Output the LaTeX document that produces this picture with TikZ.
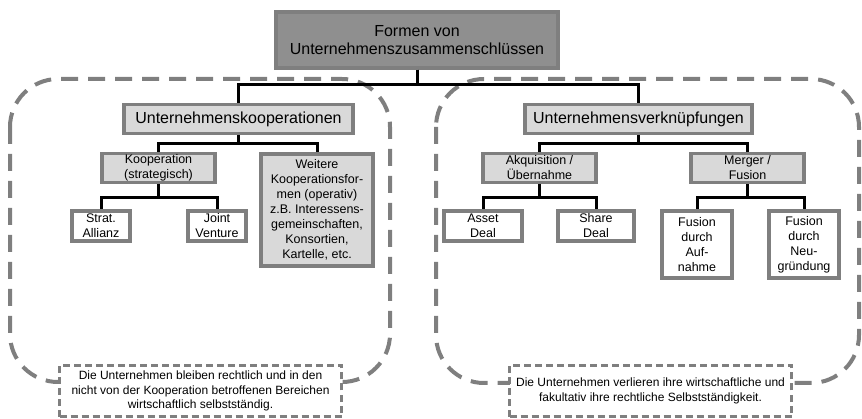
\documentclass[tikz,border=0pt]{standalone}
\usepackage{fontspec}
\setmainfont{Liberation Sans}
\usepackage{tikz}
\usetikzlibrary{calc}

\definecolor{boxline}{HTML}{7F7F7F}
\definecolor{topfill}{HTML}{8F8F8F}
\definecolor{boxfill}{HTML}{D9D9D9}

\tikzset{
  topbox/.style={draw=boxline, line width=3.5pt, fill=topfill, align=center, inner sep=0pt,
    minimum width=282pt, minimum height=56pt, font=\fontsize{16}{18.5}\selectfont},
  mainbox/.style={draw=boxline, line width=3.5pt, fill=boxfill, align=center, inner sep=0pt,
    minimum height=29pt, font=\fontsize{16}{18}\selectfont},
  subbox/.style={draw=boxline, line width=3.5pt, fill=boxfill, align=center, inner sep=0pt,
    minimum width=113pt, minimum height=29pt, font=\fontsize{12.5}{15}\selectfont},
  leafbox/.style={draw=boxline, line width=3.5pt, fill=white, align=center, inner sep=0pt,
    font=\fontsize{12.5}{15}\selectfont},
  notebox/.style={draw=boxline, line width=3pt, dash pattern=on 7pt off 4pt, fill=white,
    align=center, inner sep=0pt, minimum width=282pt, minimum height=51pt,
    font=\fontsize{12}{14.5}\selectfont},
  region/.style={draw=boxline, line width=4pt, dash pattern=on 17pt off 10pt, rounded corners=48pt},
  conn/.style={draw=black, line width=3pt}
}

\begin{document}
\begin{tikzpicture}[x=1pt, y=-1pt]
    \useasboundingbox (0,0) rectangle (862,419);

    % dashed groups
    \draw[region] (10,79) rectangle (390,382);
    \draw[region] (436,79) rectangle (859,383);

    % boxes
    \node[topbox] (top) at (417,40) {Formen von\\Unternehmenszusammenschlüssen};

    \node[mainbox, minimum width=229pt] (ukoop) at (238.5,119) {Unternehmenskooperationen};
    \node[mainbox, minimum width=227pt] (uverk) at (638.5,119) {Unternehmensverknüpfungen};

    \node[subbox] (koop) at (158.5,168) {Kooperation\\(strategisch)};
    \node[subbox, minimum width=112pt, minimum height=112pt] (weitere) at (317,210)
        {Weitere\\Kooperationsfor-\\men (operativ)\\z.B. Interessens-\\gemeinschaften,\\Konsortien,\\Kartelle, etc.};
    \node[subbox] (akq) at (539.5,168) {Akquisition /\\Übernahme};
    \node[subbox] (merger) at (747.5,168) {Merger /\\Fusion};

    \node[leafbox, minimum width=58pt, minimum height=30pt] (strat) at (101,226) {Strat.\\Allianz};
    \node[leafbox, minimum width=58pt, minimum height=30pt] (joint) at (217,226) {Joint\\Venture};
    \node[leafbox, minimum width=78pt, minimum height=30pt] (asset) at (483,226) {Asset\\Deal};
    \node[leafbox, minimum width=76pt, minimum height=30pt] (share) at (596,226) {Share\\Deal};
    \node[leafbox, minimum width=70pt, minimum height=67pt] (aufn) at (697,244.5) {Fusion\\durch\\Auf-\\nahme};
    \node[leafbox, minimum width=70pt, minimum height=67pt] (neugr) at (804,244.5) {Fusion\\durch\\Neu-\\gründung};

    % notes
    \node[notebox] (noteK) at (200.5,391)
        {Die Unternehmen bleiben rechtlich und in den\\nicht von der Kooperation betroffenen Bereichen\\wirtschaftlich selbstständig.};
    \node[notebox] (noteV) at (650.5,391)
        {Die Unternehmen verlieren ihre wirtschaftliche und\\fakultativ ihre rechtliche Selbstständigkeit.};

    % tree lines
    \draw[conn] (top.south) -- ++(0,15) -| (ukoop.north);
    \draw[conn] (top.south) -- ++(0,15) -| (uverk.north);
    \draw[conn] (ukoop.south) -- ++(0,8) -| (koop.north);
    \draw[conn] (ukoop.south) -- ++(0,8) -| (weitere.north);
    \draw[conn] (uverk.south) -- ++(0,8) -| (akq.north);
    \draw[conn] (uverk.south) -- ++(0,8) -| (merger.north);
    \draw[conn] (koop.south) -- ++(0,13) -| (strat.north);
    \draw[conn] (koop.south) -- ++(0,13) -| (joint.north);
    \draw[conn] (akq.south) -- ++(0,13) -| (asset.north);
    \draw[conn] (akq.south) -- ++(0,13) -| (share.north);
    \draw[conn] (merger.south) -- ++(0,13) -| (aufn.north);
    \draw[conn] (merger.south) -- ++(0,13) -| (neugr.north);
\end{tikzpicture}
\end{document}
